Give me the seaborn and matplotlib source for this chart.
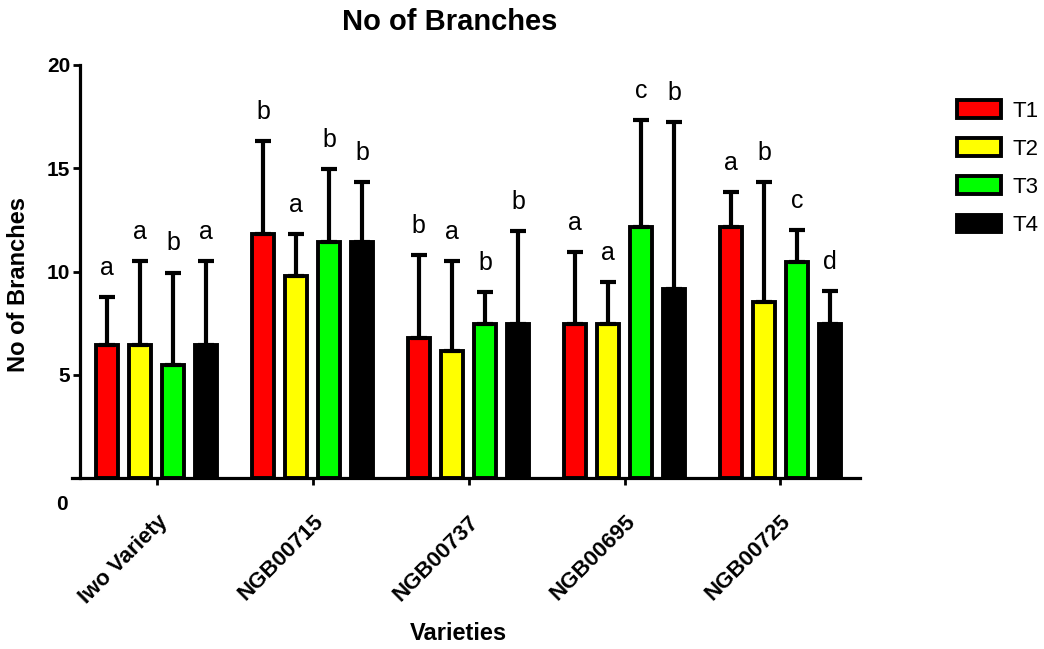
import numpy as np
import pandas as pd
import matplotlib
matplotlib.use("Agg")
import matplotlib.pyplot as plt
from matplotlib.container import BarContainer
import seaborn as sns

# ---- data ----
varieties = ["Iwo Variety", "NGB00715", "NGB00737", "NGB00695", "NGB00725"]
treatments = ["T1", "T2", "T3", "T4"]

t1_mean = [6.45, 11.8, 6.8, 7.45, 12.15]
t2_mean = [6.45, 9.8, 6.15, 7.45, 8.5]
t3_mean = [5.45, 11.45, 7.45, 12.15, 10.45]
t4_mean = [6.45, 11.45, 7.45, 9.15, 7.45]

t1_sd = [2.3, 4.5, 4.0, 3.5, 1.7]
t2_sd = [4.05, 2.0, 4.35, 2.05, 5.85]
t3_sd = [4.5, 3.5, 1.55, 5.2, 1.55]
t4_sd = [4.05, 2.9, 4.5, 8.1, 1.6]

t1_letters = ["a", "b", "b", "a", "a"]
t2_letters = ["a", "a", "a", "a", "b"]
t3_letters = ["b", "b", "b", "c", "c"]
t4_letters = ["a", "b", "b", "b", "d"]

colors = ["#ff0000", "#ffff00", "#00ff00", "#000000"]
yticks = [5, 10, 15, 20]

means = [t1_mean, t2_mean, t3_mean, t4_mean]
sds = [t1_sd, t2_sd, t3_sd, t4_sd]
letters = [t1_letters, t2_letters, t3_letters, t4_letters]

rows = []
for ti, t in enumerate(treatments):
    for vi, v in enumerate(varieties):
        rows.append({"Variety": v, "Treatment": t, "Mean": means[ti][vi]})
df = pd.DataFrame(rows)

# ---- style ----
sns.set_style("ticks")
plt.rcParams["font.family"] = ["Liberation Sans", "DejaVu Sans"]
plt.rcParams.update({
    "text.color": "black", "axes.labelcolor": "black", "axes.edgecolor": "black",
    "xtick.color": "black", "ytick.color": "black",
})

W, H = 1044, 649
fig = plt.figure(figsize=(W / 100, H / 100), dpi=100)
ax = fig.add_axes([72 / W, (H - 478) / H, 788 / W, 413 / H])

sns.barplot(data=df, x="Variety", y="Mean", hue="Treatment", order=varieties,
            hue_order=treatments, palette=colors, edgecolor="black",
            linewidth=2.8, width=0.85, gap=0.33, saturation=1,
            errorbar=None, ax=ax)

bar_conts = [c for c in ax.containers if isinstance(c, BarContainer)]

# error bars (upper only) and significance letters
for ti, cont in enumerate(bar_conts):
    xs = np.array([b.get_x() + b.get_width() / 2 for b in cont])
    hs = np.array([b.get_height() for b in cont])
    sd = np.array(sds[ti])
    ax.errorbar(xs, hs, yerr=[np.zeros_like(sd), sd], fmt="none",
                ecolor="black", elinewidth=3, capsize=6, capthick=3, zorder=1)
    for x, h, s, lab in zip(xs, hs, sd, letters[ti]):
        ax.annotate(lab, (x, h + s), xytext=(0, 21), textcoords="offset points",
                    ha="center", va="center", fontsize=18, color="black")

sns.despine(ax=ax)
ax.spines["left"].set_position(("axes", 8 / 788))
ax.spines["left"].set_linewidth(2.3)
ax.spines["bottom"].set_linewidth(2.3)

ax.set_ylim(0, 20)
ax.set_xlim(-0.543, 4.51)
ax.set_yticks(yticks)
ax.set_yticklabels([str(v) for v in yticks], fontsize=15, fontweight="bold")
ax.set_xticks(range(len(varieties)))
ax.set_xticklabels(varieties, rotation=45, ha="right", rotation_mode="anchor",
                   fontsize=16, fontweight="bold")
ax.tick_params(axis="y", direction="out", length=5, width=2, pad=2)
ax.tick_params(axis="x", direction="out", length=5, width=2, pad=19)

ax.set_ylabel("No of Branches", fontsize=17, fontweight="bold")
ax.yaxis.set_label_coords(-0.053, (478 - 285) / 413)
ax.set_xlabel("Varieties", fontsize=17, fontweight="bold")
ax.xaxis.set_label_coords((458 - 72) / 788, (478 - 622) / 413)

fig.text(62 / W, 1 - 505 / H, "0", ha="center", va="center",
         fontsize=15, fontweight="bold")
fig.text(450 / W, 1 - 22 / H, "No of Branches", ha="center", va="center",
         fontsize=21, fontweight="bold")

handles, labels = ax.get_legend_handles_labels()
if ax.get_legend() is not None:
    ax.get_legend().remove()
fig.legend(handles, labels, loc="upper left",
           bbox_to_anchor=(937 / W, 1 - 80 / H), frameon=False, fontsize=16,
           handlelength=2.0, handleheight=0.85, labelspacing=0.75,
           handletextpad=0.5)

fig.savefig("out.png", dpi=100)
